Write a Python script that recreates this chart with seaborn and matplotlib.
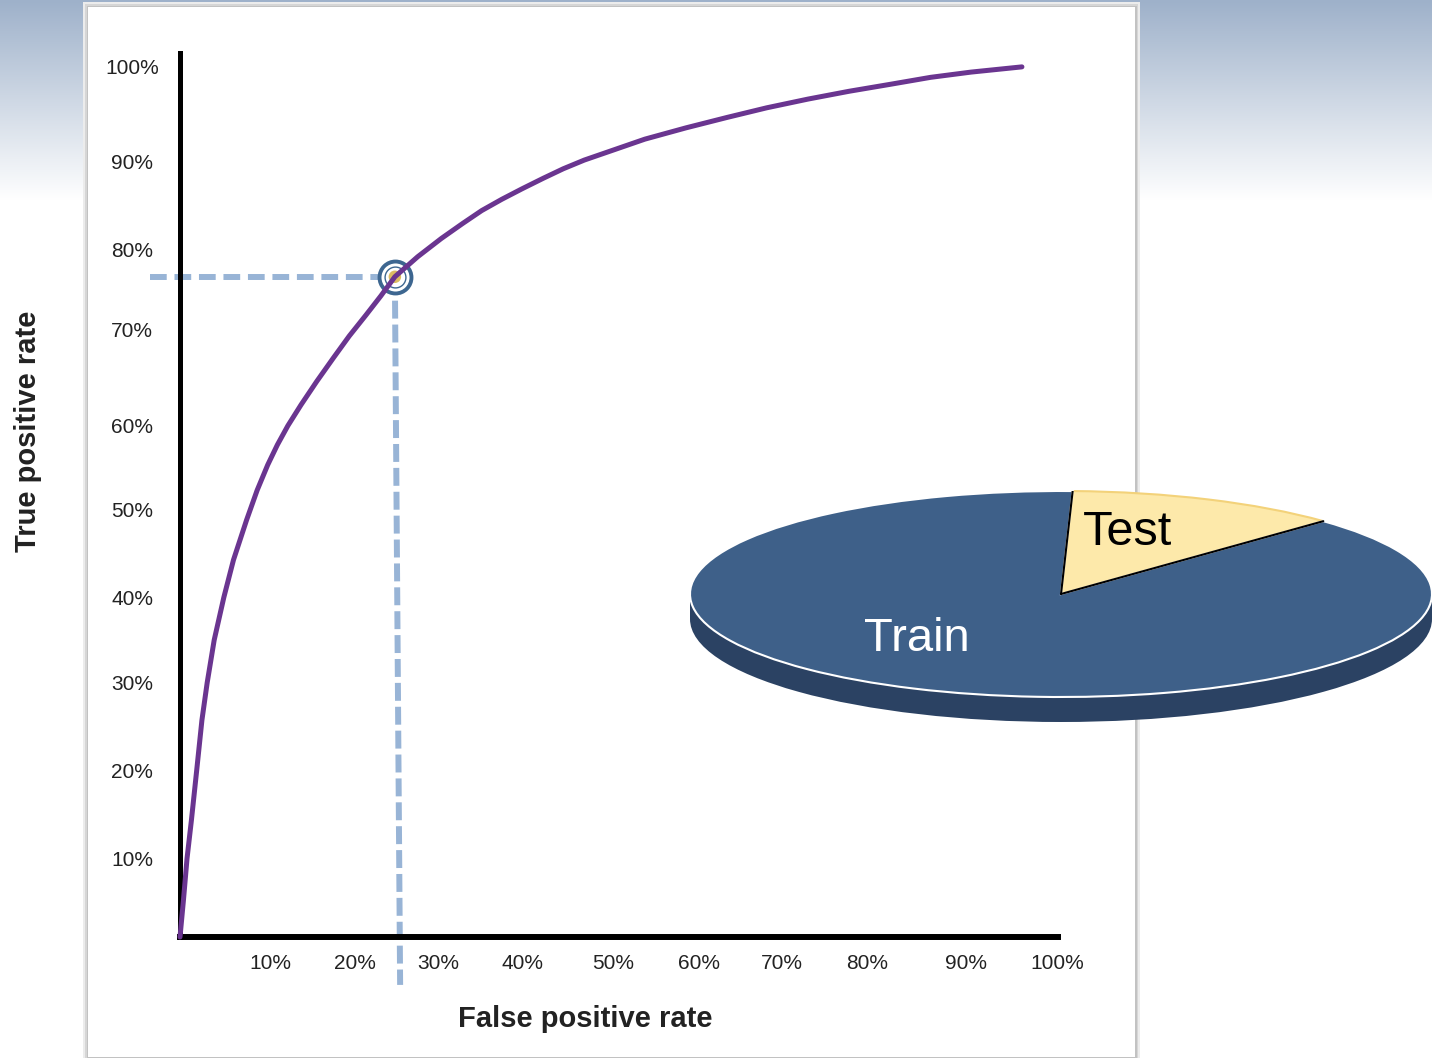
import numpy as np
import matplotlib
matplotlib.use("Agg")
import matplotlib.pyplot as plt
from matplotlib.patches import Rectangle, Ellipse
import seaborn as sns

# ROC curve: false positive rate vs true positive rate
fpr = [0.000, 0.004, 0.008, 0.013, 0.019, 0.025, 0.031, 0.039, 0.050, 0.061,
       0.076, 0.088, 0.100, 0.111, 0.123, 0.138, 0.156, 0.175, 0.193, 0.212,
       0.229, 0.245, 0.271, 0.298, 0.322, 0.344, 0.367, 0.390, 0.414, 0.437,
       0.461, 0.484, 0.530, 0.577, 0.624, 0.669, 0.716, 0.763, 0.810, 0.856,
       0.902, 0.960]
tpr = [0.000, 0.043, 0.090, 0.134, 0.191, 0.249, 0.292, 0.341, 0.390, 0.433,
       0.479, 0.513, 0.542, 0.565, 0.587, 0.611, 0.638, 0.665, 0.690, 0.714,
       0.736, 0.758, 0.781, 0.802, 0.819, 0.834, 0.847, 0.859, 0.871, 0.882,
       0.892, 0.900, 0.916, 0.929, 0.941, 0.952, 0.962, 0.971, 0.979, 0.987,
       0.993, 0.999]

# selected operating point on the curve
op_fpr, op_tpr = 0.245, 0.758

x_tick_labels = ["10%", "20%", "30%", "40%", "50%", "60%", "70%", "80%", "90%", "100%"]
x_tick_pos = [0.103, 0.200, 0.294, 0.391, 0.494, 0.592, 0.686, 0.783, 0.896, 1.000]
y_tick_labels = ["10%", "20%", "30%", "40%", "50%", "60%", "70%", "80%", "90%", "100%"]
y_tick_pos = [0.090, 0.191, 0.292, 0.390, 0.491, 0.587, 0.697, 0.789, 0.890, 1.000]

# train / test split shown as a pie
split_labels = ["Test", "Train"]
split_sizes = [12, 88]

sns.set_style("white")
plt.rcParams["font.family"] = ["Liberation Sans", "DejaVu Sans"]

W, H = 1432, 1058
fig = plt.figure(figsize=(W / 100, H / 100), dpi=100)

# ---- slide background with gradient and white panel ----
bg = fig.add_axes([0, 0, 1, 1], zorder=-10)
bg.set_xlim(0, W)
bg.set_ylim(H, 0)
bg.axis("off")
grad = np.ones((H, 1, 3))
top = np.array([158, 177, 202]) / 255.0
fade = 200
for r in range(fade):
    t = r / fade
    grad[r, 0] = top * (1 - t) + t
bg.imshow(grad, extent=(0, W, H, 0), aspect="auto", interpolation="bilinear")
for pad, col in [(5, "#ececec"), (3, "#d6d6d6"), (1.5, "#c2c2c2")]:
    bg.add_patch(Rectangle((88 - pad, 7 - pad), 1047 + 2 * pad, 1050 + 2 * pad,
                           facecolor=col, edgecolor="none"))
bg.add_patch(Rectangle((88, 7), 1047, 1050, facecolor="white", edgecolor="none"))

# ---- ROC axes ----
ax = fig.add_axes([180 / W, (H - 937) / H, 878 / W, 884 / H], zorder=1)
ax.patch.set_alpha(0)
ax.set_xlim(0, 878 / 877)
ax.set_ylim(0, 884 / 871)

dash_col = "#98b4d6"
ax.plot([-0.034, op_fpr], [op_tpr, op_tpr], color=dash_col, lw=4.3,
        dashes=(2.8, 1.3), clip_on=False, zorder=2)
ax.plot([op_fpr, op_fpr + 0.006], [op_tpr, -0.055], color=dash_col, lw=4.3,
        dashes=(3.0, 1.0), clip_on=False, zorder=2)

ax.scatter([op_fpr], [op_tpr], s=23 ** 2, facecolor="white", edgecolor="#3d6690",
           linewidth=2.8, zorder=3, clip_on=False)
ax.scatter([op_fpr], [op_tpr], s=15 ** 2, facecolor="white", edgecolor="#3d6690",
           linewidth=1.0, zorder=3, clip_on=False)
ax.scatter([op_fpr], [op_tpr], s=9 ** 2, facecolor="#dcbc62", edgecolor="none",
           zorder=3, clip_on=False)

sns.lineplot(x=fpr, y=tpr, ax=ax, sort=False, estimator=None, color="#6a3590",
             lw=3.6, zorder=5, clip_on=False)
ax.lines[-1].set_solid_joinstyle("round")

for side in ["top", "right"]:
    ax.spines[side].set_visible(False)
ax.spines["left"].set_linewidth(3.6)
ax.spines["bottom"].set_linewidth(4.3)
ax.spines["left"].set_color("black")
ax.spines["bottom"].set_color("black")

ax.set_xticks(x_tick_pos, x_tick_labels)
ax.set_yticks(y_tick_pos, y_tick_labels)
ax.tick_params(axis="both", length=0, labelsize=15, labelcolor="#222222")
ax.tick_params(axis="x", pad=12)
ax.tick_params(axis="y", pad=34.5)
for lab in ax.get_yticklabels():
    lab.set_horizontalalignment("center")

ax.set_xlabel("False positive rate", fontsize=21, fontweight="bold",
              color="#222222", va="center")
ax.xaxis.set_label_coords(0.461, -0.0925)
ax.set_ylabel("True positive rate", fontsize=21, fontweight="bold",
              color="#222222", va="center", ha="center")
ax.yaxis.set_label_coords(-0.173, 0.5724)

# ---- 3-D looking pie of the data split ----
pax = fig.add_axes([690 / W, (H - 722) / H, 742 / W, 231 / H], zorder=4)
depth = 25 / 103
side_col = "#2b4263"
pax.add_patch(Ellipse((0, -depth), 2.0, 2.0, facecolor=side_col, edgecolor="none"))
pax.add_patch(Rectangle((-1, -depth), 2.0, depth, facecolor=side_col, edgecolor="none"))
wedges, _ = pax.pie(split_sizes, colors=["#fde9aa", "#3e6089"], startangle=45,
                    counterclock=True, radius=1.0, center=(0, 0),
                    wedgeprops=dict(edgecolor="white", linewidth=1.5))
wedges[0].set_edgecolor("#f3d27a")
test_w = wedges[0]
for ang in (test_w.theta1, test_w.theta2):
    a = np.deg2rad(ang)
    pax.plot([0, np.cos(a)], [0, np.sin(a)], color="black", lw=1.5, zorder=5)
pax.set_aspect("auto")
pax.set_xlim(-1, 1)
pax.set_ylim(-1 - depth, 1)
pax.axis("off")
pax.text(0.059, 0.476, split_labels[0], fontsize=35, color="black",
         ha="left", va="baseline", zorder=6)
pax.text(-0.530, -0.553, split_labels[1], fontsize=34, color="white",
         ha="left", va="baseline", zorder=6)

fig.savefig("out.png", dpi=100)
